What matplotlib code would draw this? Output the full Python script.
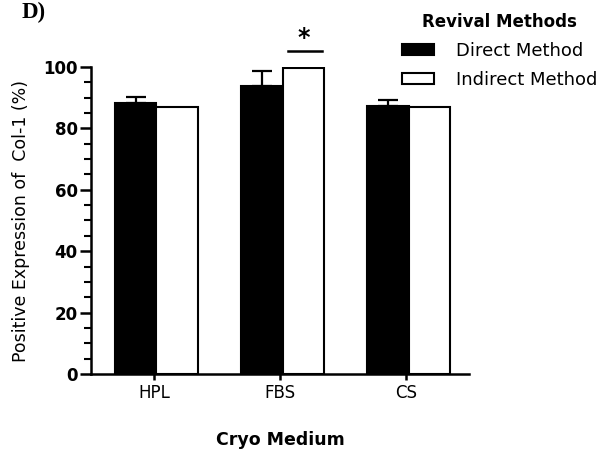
import matplotlib.pyplot as plt
import numpy as np
from matplotlib.ticker import MultipleLocator

# --------------------------------------------------
# data
# --------------------------------------------------
media = ["HPL", "FBS", "CS"]
direct_mean = [88.3, 93.9, 87.3]
direct_err = [2.0, 4.7, 1.9]
indirect_mean = [87.0, 99.8, 87.0]
series_names = ["Direct Method", "Indirect Method"]

plt.rcParams["font.family"] = ["DejaVu Sans"]

fig = plt.figure(figsize=(6.14, 4.5), dpi=100)
ax = fig.add_axes([0.148, 0.169, 0.616, 0.682])

x = np.arange(len(media))
w = 0.33
off = 0.02

ax.bar(x - w / 2 + off, direct_mean, w, color="black", edgecolor="black",
       linewidth=1.5, label=series_names[0], zorder=2)
ax.bar(x + w / 2 + off, indirect_mean, w, color="white", edgecolor="black",
       linewidth=1.5, label=series_names[1], zorder=2)
ax.errorbar(x - w / 2 + off, direct_mean, yerr=[np.zeros(3), direct_err],
            fmt="none", ecolor="black", elinewidth=1.6, capsize=7.5,
            capthick=1.6, zorder=1)

# significance mark over FBS indirect
ax.plot([x[1] + 0.065, x[1] + w + 0.0], [105.2, 105.2], color="black", lw=1.8,
        clip_on=False)
ax.text(x[1] + w / 2 + 0.02, 105.5, "*", ha="center", va="bottom",
        fontsize=17, fontweight="bold", clip_on=False)

ax.set_xlim(-0.5, 2.5)
ax.set_ylim(0, 100)
ax.set_xticks(x)
ax.set_xticklabels(media, fontsize=12)
ax.yaxis.set_major_locator(MultipleLocator(20))
ax.yaxis.set_minor_locator(MultipleLocator(5))
for lab in ax.get_yticklabels():
    lab.set_fontweight("bold")
    lab.set_fontsize(12)

for side in ("top", "right"):
    ax.spines[side].set_visible(False)
for side in ("left", "bottom"):
    ax.spines[side].set_linewidth(1.8)
ax.tick_params(axis="y", which="major", width=1.8, length=8, pad=1.5)
ax.tick_params(axis="y", which="minor", width=1.5, length=5)
ax.tick_params(axis="x", which="major", width=1.8, length=4.5, pad=3)

ax.set_ylabel("Positive Expression of  Col-1 (%)", fontsize=12.5, va="center")
ax.yaxis.set_label_coords(-0.184, 0.5)
ax.set_xlabel("Cryo Medium", fontsize=12.5, fontweight="bold", va="center")
ax.xaxis.set_label_coords(0.5, -0.215)

leg = fig.legend(loc="upper left", bbox_to_anchor=(0.628, 1.008), frameon=False,
                 title="Revival Methods", fontsize=13, handlelength=1.8,
                 handleheight=0.5, handletextpad=1.2, labelspacing=0.62)
leg.get_title().set_fontweight("bold")
leg.get_title().set_fontsize(12)

fig.text(0.035, 0.972, "D)", fontsize=16.5, fontweight="bold",
         family="Liberation Serif", va="center")

fig.savefig("out.png", dpi=100)
